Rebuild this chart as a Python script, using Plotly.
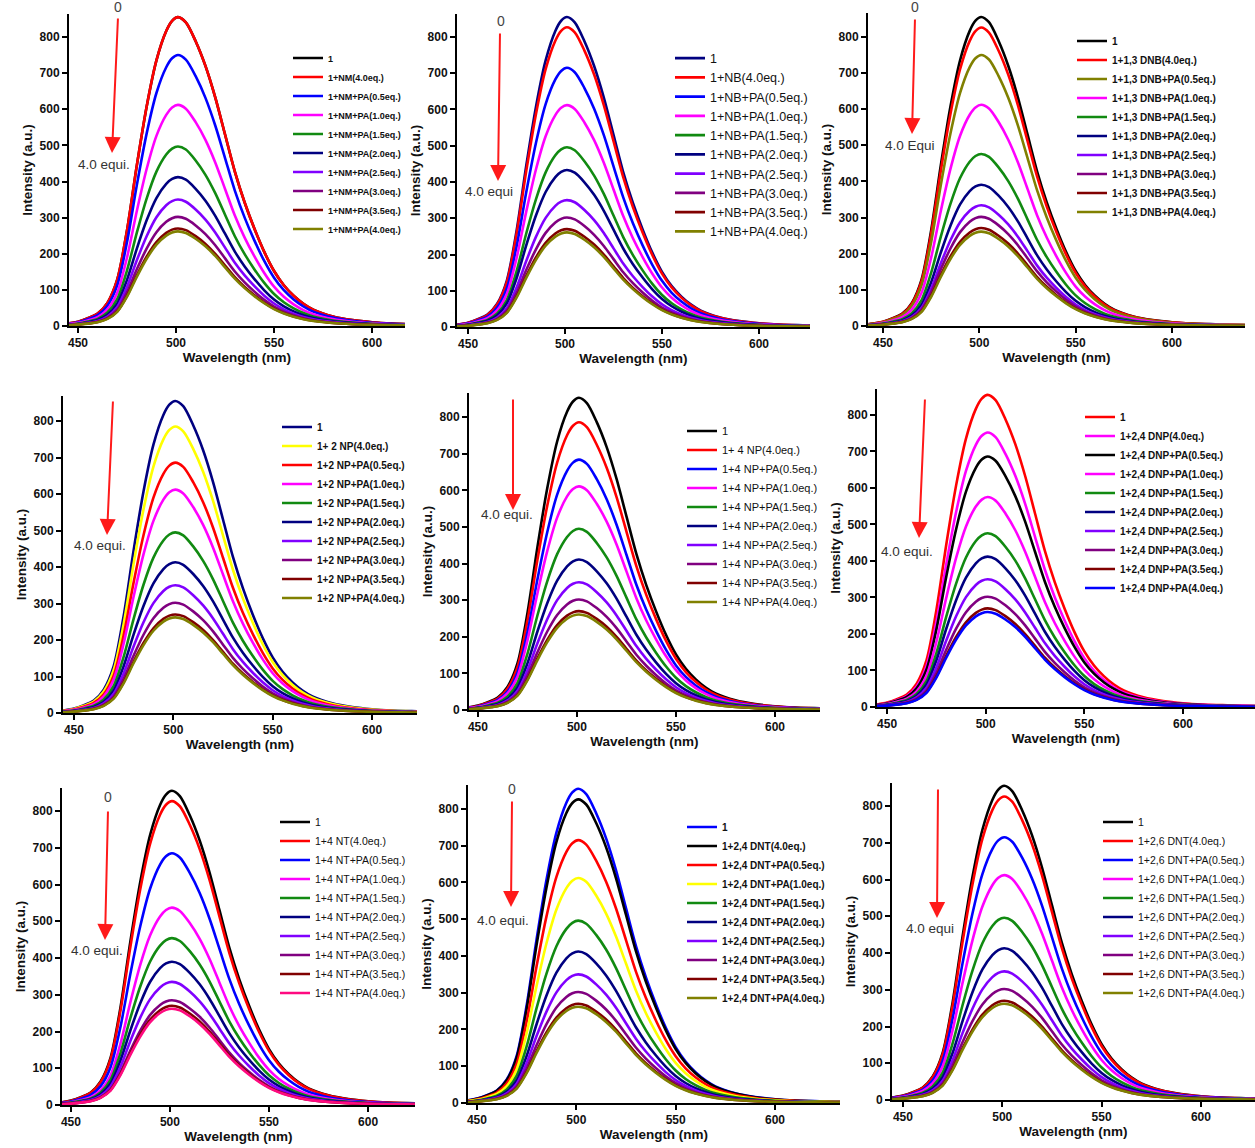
import plotly.graph_objects as go

W, H = 1255, 1148

# ---------------- data ----------------
# common emission-band profile (normalised intensity vs wavelength)
wavelength = [440, 445, 450, 455, 460, 465, 470, 475, 480, 485, 490, 495, 498, 501,
              505, 510, 515, 520, 525, 530, 535, 540, 545, 550, 555, 560, 565, 570,
              580, 590, 600, 610, 620, 630, 640]
profile = [0.004, 0.008, 0.014, 0.025, 0.040, 0.075, 0.15, 0.31, 0.52, 0.71, 0.86,
           0.955, 0.988, 1.0, 0.983, 0.922, 0.842, 0.74, 0.62, 0.50, 0.40, 0.315, 0.24,
           0.178, 0.132, 0.098, 0.072, 0.053, 0.031, 0.019, 0.012, 0.008, 0.006, 0.004,
           0.003]

eq_steps = ["0.5", "1.0", "1.5", "2.0", "2.5", "3.0", "3.5", "4.0"]

nm_labels = ["1", "1+NM(4.0eq.)"] + ["1+NM+PA(%seq.)" % s for s in eq_steps]
nm_peaks = [855, 855, 750, 612, 497, 412, 350, 302, 270, 262]

nb_labels = ["1", "1+NB(4.0eq.)"] + ["1+NB+PA(%seq.)" % s for s in eq_steps]
nb_peaks = [855, 827, 715, 612, 496, 433, 350, 302, 270, 261]

dnb13_labels = ["1", "1+1,3 DNB(4.0eq.)"] + ["1+1,3 DNB+PA(%seq.)" % s for s in eq_steps]
dnb13_peaks = [855, 826, 750, 612, 476, 391, 334, 302, 271, 261]

np2_labels = ["1", "1+ 2 NP(4.0eq.)"] + ["1+2 NP+PA(%seq.)" % s for s in eq_steps]
np2_peaks = [855, 785, 686, 612, 495, 413, 350, 302, 270, 262]

np4_labels = ["1", "1+ 4 NP(4.0eq.)"] + ["1+4 NP+PA(%seq.)" % s for s in eq_steps]
np4_peaks = [853, 786, 684, 611, 495, 411, 349, 302, 270, 261]

dnp24_labels = ["1", "1+2,4 DNP(4.0eq.)"] + ["1+2,4 DNP+PA(%seq.)" % s for s in eq_steps]
dnp24_peaks = [855, 752, 686, 575, 476, 412, 350, 302, 270, 260]

nt4_labels = ["1", "1+4 NT(4.0eq.)"] + ["1+4 NT+PA(%seq.)" % s for s in eq_steps]
nt4_peaks = [855, 827, 685, 537, 454, 390, 335, 285, 270, 262]

dnt24_labels = ["1", "1+2,4 DNT(4.0eq.)"] + ["1+2,4 DNT+PA(%seq.)" % s for s in eq_steps]
dnt24_peaks = [855, 826, 715, 612, 496, 412, 350, 302, 270, 262]

dnt26_labels = ["1", "1+2,6 DNT(4.0eq.)"] + ["1+2,6 DNT+PA(%seq.)" % s for s in eq_steps]
dnt26_peaks = [855, 826, 715, 612, 496, 413, 350, 302, 270, 262]

x_ticks = [450, 500, 550, 600]

# ---------------- styles ----------------
BLACK, RED, BLUE, MAG = "#000000", "#FF0000", "#0000FF", "#FF00FF"
GREEN, NAVY, VIOLET, PURPLE = "#118A11", "#000080", "#8000FF", "#800080"
DRED, OLIVE, YELLOW, PINK = "#800000", "#808000", "#FFFF00", "#FF0A80"
TAIL = [GREEN, NAVY, VIOLET, PURPLE, DRED]

FONT = "Arial, Liberation Sans, sans-serif"

panels = [
    dict(labels=nm_labels, peaks=nm_peaks, colors=[BLACK, RED, BLUE, MAG] + TAIL + [OLIVE],
         box=(69, 405, 14, 326), xr=(445.4, 616.8), ymax=863.7,
         leg=(293, 58, 9, True), arrow=((118, 17), (112, 153)),
         txt=(76, 165, "4.0 equi."), zero=(118, 7)),
    dict(labels=nb_labels, peaks=nb_peaks, colors=[NAVY, RED, BLUE, MAG] + TAIL + [OLIVE],
         box=(457, 810, 14, 327), xr=(444.3, 626.3), ymax=863.4,
         leg=(675, 58, 12.5, False), arrow=((500, 32), (498, 181)),
         txt=(463, 192, "4.0 equi"), zero=(501, 21)),
    dict(labels=dnb13_labels, peaks=dnb13_peaks, colors=[BLACK, RED, OLIVE, MAG] + TAIL + [OLIVE],
         box=(868, 1245, 13, 326), xr=(442.2, 637.9), ymax=866.0,
         leg=(1077, 41, 10, True), arrow=((915, 18), (912, 134)),
         txt=(883, 146, "4.0 Equi"), zero=(915, 7)),
    dict(labels=np2_labels, peaks=np2_peaks, colors=[NAVY, YELLOW, RED, MAG] + TAIL + [OLIVE],
         box=(63, 417, 396, 713), xr=(444.5, 622.6), ymax=868.5,
         leg=(282, 427, 10, True), arrow=((113, 400), (107, 535)),
         txt=(72, 545, "4.0 equi."), zero=None),
    dict(labels=np4_labels, peaks=np4_peaks, colors=[BLACK, RED, BLUE, MAG] + TAIL + [OLIVE],
         box=(469, 820, 393, 710), xr=(445.5, 622.7), ymax=866.0,
         leg=(687, 431, 11, False), arrow=((513, 398), (513, 510)),
         txt=(479, 515, "4.0 equi."), zero=None),
    dict(labels=dnp24_labels, peaks=dnp24_peaks, colors=[RED, MAG, BLACK, MAG] + TAIL + [BLUE],
         box=(877, 1255, 389, 707), xr=(444.9, 636.5), ymax=871.0,
         leg=(1085, 417, 10, True), arrow=((925, 398), (919, 538)),
         txt=(879, 551, "4.0 equi."), zero=None),
    dict(labels=nt4_labels, peaks=nt4_peaks, colors=[BLACK, RED, BLUE, MAG] + TAIL + [PINK],
         box=(62, 415, 788, 1105), xr=(445.5, 623.7), ymax=862.6,
         leg=(280, 822, 10.5, False), arrow=((108, 810), (105, 940)),
         txt=(69, 950, "4.0 equi."), zero=(108, 797)),
    dict(labels=dnt24_labels, peaks=dnt24_peaks, colors=[BLUE, BLACK, RED, YELLOW] + TAIL + [OLIVE],
         box=(468, 840, 785, 1103), xr=(445.5, 632.7), ymax=865.0,
         leg=(687, 827, 10, True), arrow=((512, 800), (511, 907)),
         txt=(475, 920, "4.0 equi."), zero=(512, 789)),
    dict(labels=dnt26_labels, peaks=dnt26_peaks, colors=[BLACK, RED, BLUE, MAG] + TAIL + [OLIVE],
         box=(892, 1255, 783, 1100), xr=(444.5, 627.2), ymax=862.6,
         leg=(1103, 822, 10.5, False), arrow=((938, 788), (937, 918)),
         txt=(904, 928, "4.0 equi"), zero=None),
]

fig = go.Figure()
annotations = []
layout = dict(
    width=W, height=H, margin=dict(l=0, r=0, t=0, b=0),
    paper_bgcolor="white", plot_bgcolor="white",
    font=dict(family=FONT, color="black"),
)

for i, p in enumerate(panels, start=1):
    sfx = "" if i == 1 else str(i)
    xa, ya = "x" + sfx, "y" + sfx
    leg_key = "legend" + sfx
    for lab, pk, col in zip(p["labels"], p["peaks"], p["colors"]):
        fig.add_trace(go.Scatter(
            x=wavelength, y=[pk * v for v in profile], mode="lines", name=lab,
            line=dict(color=col, width=2.6, shape="spline", smoothing=0.8),
            xaxis=xa, yaxis=ya, legend=leg_key, hoverinfo="skip"))

    x0, x1, y0, y1 = p["box"]
    layout["xaxis" + sfx] = dict(
        domain=[x0 / W, min(x1 / W, 1.0)], range=list(p["xr"]), anchor=ya,
        showline=True, linecolor="black", linewidth=2, mirror=False,
        ticks="outside", ticklen=5, tickwidth=2, tickcolor="black",
        tickvals=x_ticks, showgrid=False, zeroline=False,
        tickfont=dict(family=FONT, size=12, weight="bold", color="#111"),
        title=dict(text="Wavelength (nm)", standoff=2,
                   font=dict(family=FONT, size=13.5, weight="bold", color="#111")),
        automargin=False)
    layout["yaxis" + sfx] = dict(
        domain=[1 - y1 / H, 1 - y0 / H], range=[0, p["ymax"]], anchor=xa,
        showline=True, linecolor="black", linewidth=2,
        ticks="outside", ticklen=5, tickwidth=2, tickcolor="black",
        tick0=0, dtick=100, showgrid=False, zeroline=False,
        tickfont=dict(family=FONT, size=12, weight="bold", color="#111"),
        title=dict(text="Intensity (a.u.)", standoff=4,
                   font=dict(family=FONT, size=13.5, weight="bold", color="#111")),
        automargin=False)

    lx, ly, fs, bold = p["leg"]
    layout[leg_key] = dict(
        x=(lx - 5) / W, y=1 - (ly - 14.5) / H, xanchor="left", yanchor="top",
        bgcolor="rgba(0,0,0,0)", borderwidth=0, itemwidth=30,
        font=dict(family=FONT, size=fs, weight="bold" if bold else "normal", color="#111"),
        tracegroupgap=0)

    (tx, ty), (hx, hy) = p["arrow"]
    annotations.append(dict(
        xref="paper", yref="paper", x=hx / W, y=1 - hy / H, ax=tx - hx, ay=ty - hy,
        axref="pixel", ayref="pixel", text="", showarrow=True,
        arrowcolor="#FF1A1A", arrowwidth=2, arrowhead=2, arrowsize=1.6, standoff=0))
    tx2, ty2, ttext = p["txt"]
    annotations.append(dict(
        xref="paper", yref="paper", x=tx2 / W, y=1 - ty2 / H, xanchor="left",
        yanchor="middle", text=ttext, showarrow=False,
        font=dict(family=FONT, size=13.5, color="#333")))
    if p["zero"] is not None:
        zx, zy = p["zero"]
        annotations.append(dict(
            xref="paper", yref="paper", x=zx / W, y=1 - zy / H, xanchor="center",
            yanchor="middle", text="0", showarrow=False,
            font=dict(family=FONT, size=14, color="#444")))

layout["annotations"] = annotations
layout["showlegend"] = True
fig.update_layout(**layout)

fig.write_html("out.html")
